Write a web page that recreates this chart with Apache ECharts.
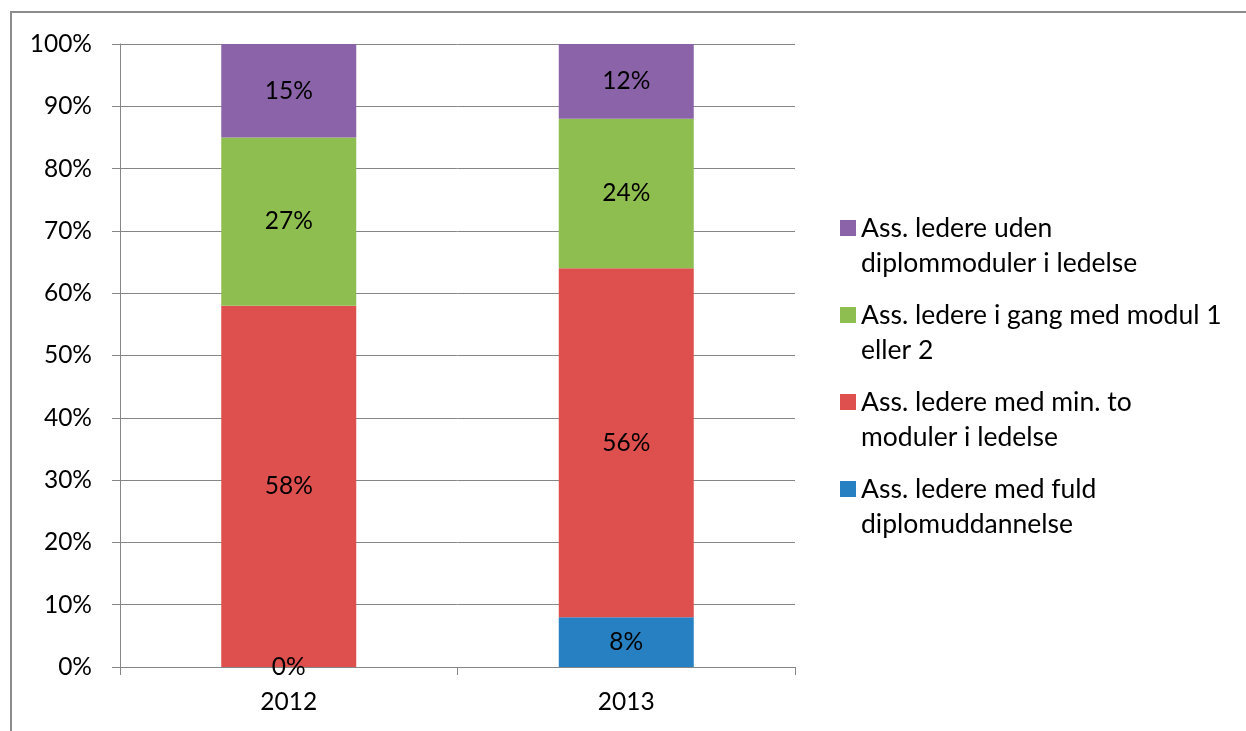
<!DOCTYPE html>
<html>
<head>
<meta charset="utf-8">
<script src="https://cdn.jsdelivr.net/npm/echarts@6/dist/echarts.min.js"></script>
<style>
html,body{margin:0;padding:0;background:#fff;}
#c{width:1246px;height:731px;}
</style>
</head>
<body>
<div id="c"></div>
<script>
const categories = ['2012', '2013'];
const seriesNames = [
  'Ass. ledere med fuld diplomuddannelse',
  'Ass. ledere med min. to moduler i ledelse',
  'Ass. ledere i gang med modul 1 eller 2',
  'Ass. ledere uden diplommoduler i ledelse'
];
const legendLines = {
  'Ass. ledere med fuld diplomuddannelse': ['Ass. ledere med fuld', 'diplomuddannelse'],
  'Ass. ledere med min. to moduler i ledelse': ['Ass. ledere med min. to', 'moduler i ledelse'],
  'Ass. ledere i gang med modul 1 eller 2': ['Ass. ledere i gang med modul 1', 'eller 2'],
  'Ass. ledere uden diplommoduler i ledelse': ['Ass. ledere uden', 'diplommoduler i ledelse']
};
const fuld = [0, 8];
const minTo = [58, 56];
const iGang = [27, 24];
const uden = [15, 12];
const colors = ['#2780C1', '#DE504E', '#8FBE50', '#8B63A8'];
const values = [fuld, minTo, iGang, uden];

const FONT = 'Lato';
const FS = 24.5;
const chart = echarts.init(document.getElementById('c'));
chart.setOption({
  animation: false,
  textStyle: { fontFamily: FONT },
  graphic: [{
    type: 'rect',
    shape: { x: 11, y: 12, width: 1400, height: 900 },
    style: { fill: 'none', stroke: '#8C8C8C', lineWidth: 2 },
    silent: true, z: -10
  }],
  grid: { left: 120, top: 44, right: 451, bottom: 64 },
  legend: {
    orient: 'vertical',
    left: 840,
    top: 175.5,
    padding: 0,
    itemGap: -18,
    itemWidth: 16,
    itemHeight: 16,
    textGap: 7,
    icon: 'rect',
    data: seriesNames.slice().reverse(),
    formatter: n => ' \n' + legendLines[n].join('\n'),
    textStyle: { fontFamily: FONT, fontSize: 26.5, color: '#000', lineHeight: 35 },
    itemStyle: { borderWidth: 0 },
    selectedMode: false
  },
  xAxis: {
    type: 'category',
    data: categories,
    axisLine: { lineStyle: { color: '#868686', width: 1 } },
    axisTick: { show: true, length: 8, lineStyle: { color: '#868686' } },
    axisLabel: { color: '#000', fontSize: FS, fontFamily: FONT, margin: 23 },
    splitLine: { show: false }
  },
  yAxis: {
    type: 'value',
    min: 0, max: 100, interval: 10,
    axisLine: { show: true, lineStyle: { color: '#868686', width: 1 } },
    axisTick: { show: true, length: 8, lineStyle: { color: '#868686' } },
    axisLabel: { color: '#000', fontSize: FS, fontFamily: FONT, margin: 28, formatter: v => v + '%' },
    splitLine: { show: true, lineStyle: { color: '#868686', width: 1 } }
  },
  series: seriesNames.map((name, i) => ({
    name,
    type: 'bar',
    stack: 'total',
    barWidth: '40%',
    data: values[i],
    itemStyle: { color: colors[i] },
    label: {
      show: true,
      position: 'inside',
      color: '#000',
      fontSize: FS,
      fontFamily: FONT,
      formatter: p => p.value + '%'
    }
  }))
});
</script>
</body>
</html>
